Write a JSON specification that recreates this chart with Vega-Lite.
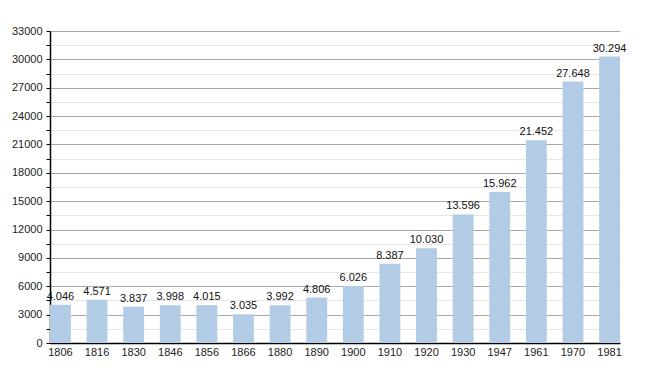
{
  "$schema": "https://vega.github.io/schema/vega-lite/v6.json",
  "width": 570,
  "height": 312,
  "autosize": {"type": "none"},
  "padding": {"left": 50, "top": 31, "right": 30, "bottom": 30},
  "background": "white",
  "config": {
    "view": {"stroke": null},
    "font": "Liberation Sans"
  },
  "data": {
    "values": [
      {"year": "1806", "pop": 4046, "label": "4.046"},
      {"year": "1816", "pop": 4571, "label": "4.571"},
      {"year": "1830", "pop": 3837, "label": "3.837"},
      {"year": "1846", "pop": 3998, "label": "3.998"},
      {"year": "1856", "pop": 4015, "label": "4.015"},
      {"year": "1866", "pop": 3035, "label": "3.035"},
      {"year": "1880", "pop": 3992, "label": "3.992"},
      {"year": "1890", "pop": 4806, "label": "4.806"},
      {"year": "1900", "pop": 6026, "label": "6.026"},
      {"year": "1910", "pop": 8387, "label": "8.387"},
      {"year": "1920", "pop": 10030, "label": "10.030"},
      {"year": "1930", "pop": 13596, "label": "13.596"},
      {"year": "1947", "pop": 15962, "label": "15.962"},
      {"year": "1961", "pop": 21452, "label": "21.452"},
      {"year": "1970", "pop": 27648, "label": "27.648"},
      {"year": "1981", "pop": 30294, "label": "30.294"}
    ]
  },
  "encoding": {
    "x": {
      "field": "year",
      "type": "ordinal",
      "sort": null,
      "scale": {"paddingInner": 0.43, "paddingOuter": 0},
      "axis": {
        "title": null,
        "labelAngle": 0,
        "labelFontSize": 11,
        "labelColor": "#222",
        "labelPadding": 3,
        "ticks": false,
        "domainColor": "#000",
        "domainWidth": 1.5
      }
    },
    "y": {
      "field": "pop",
      "type": "quantitative",
      "scale": {"domain": [0, 33000], "nice": false},
      "axis": {
        "title": null,
        "values": [0, 1500, 3000, 4500, 6000, 7500, 9000, 10500, 12000, 13500, 15000, 16500, 18000, 19500, 21000, 22500, 24000, 25500, 27000, 28500, 30000, 31500, 33000],
        "labelExpr": "datum.value % 3000 === 0 ? datum.value : ''",
        "labelFontSize": 11,
        "labelColor": "#222",
        "labelPadding": 4,
        "tickSize": 4,
        "tickColor": "#000",
        "domainColor": "#000",
        "domainWidth": 1.5,
        "gridColor": {"condition": {"test": "datum.value % 3000 === 0", "value": "#a8a8a8"}, "value": "#e6e6e6"},
        "gridWidth": 1
      }
    }
  },
  "layer": [
    {"mark": {"type": "bar", "color": "#b3cce5"}},
    {
      "mark": {"type": "text", "baseline": "bottom", "dy": -3, "fontSize": 11, "color": "#111"},
      "encoding": {"text": {"field": "label"}}
    }
  ]
}
